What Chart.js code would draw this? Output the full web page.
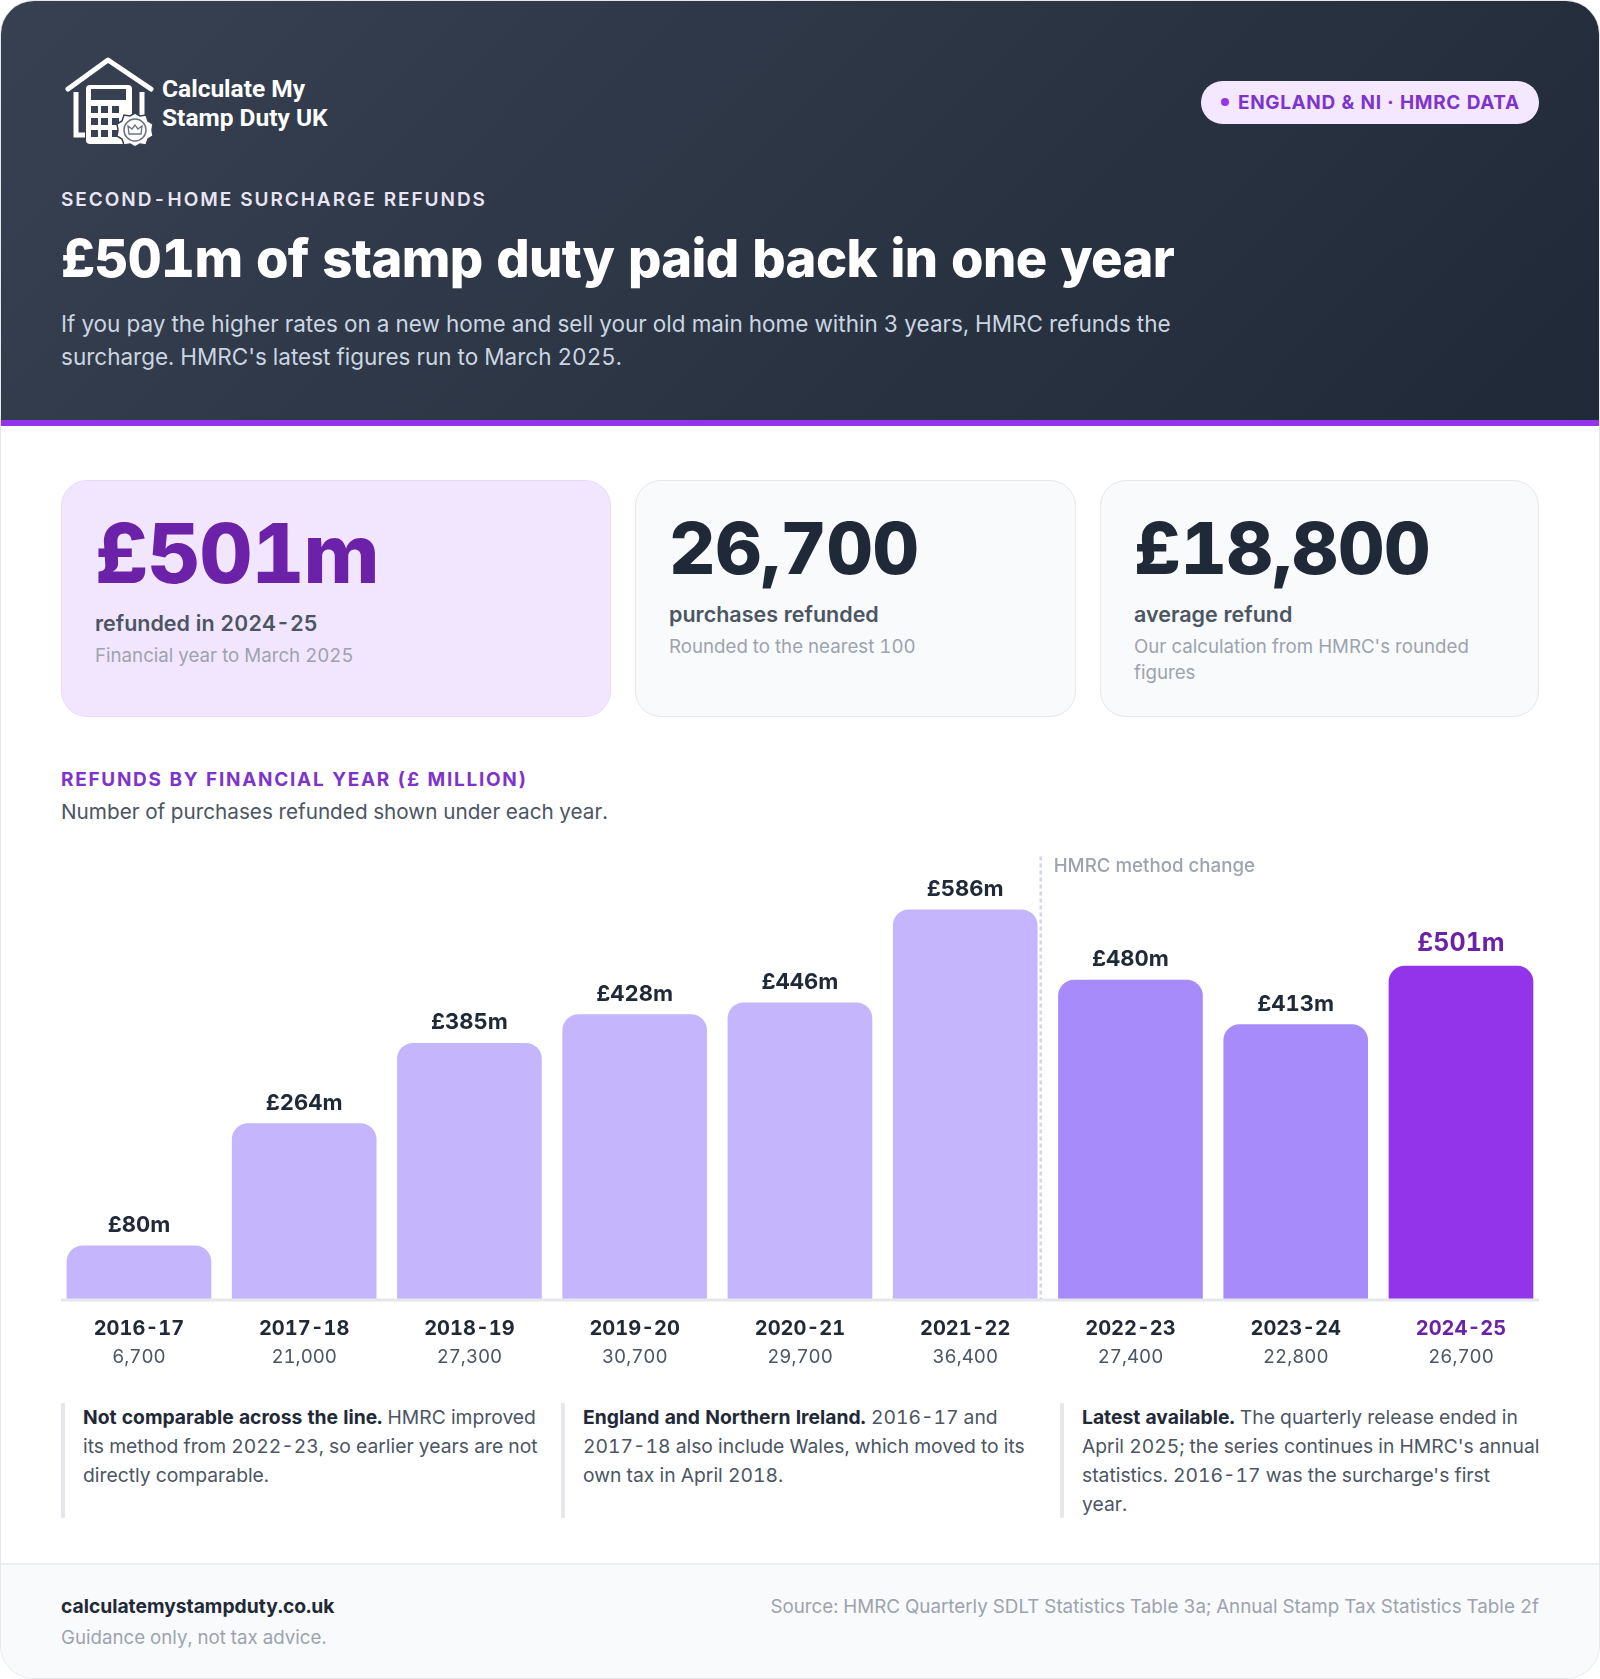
<!DOCTYPE html>
<html>
<head>
<meta charset="utf-8">
<title>Stamp duty refunds</title>
<script src="https://cdn.jsdelivr.net/npm/chart.js@4"></script>
<style>
html, body { margin: 0; padding: 0; background: #fff; }
body { width: 1600px; height: 1679px; position: relative; overflow: hidden; font-family: Inter, sans-serif; color: #1f2937; }
#card { position: absolute; left: 0; top: 0; width: 1598px; height: 1677px; border: 1px solid #e5e7eb; border-radius: 34px; overflow: hidden; background: #fff; }
#head { position: absolute; left: 0; top: 0; width: 1598px; height: 419px; background: linear-gradient(135deg, #374151 0%, #1f2937 100%); border-bottom: 6px solid #9333ea; }
#foot { position: absolute; left: 0; top: 1562px; width: 1598px; height: 115px; background: #f9fafb; border-top: 2px solid #eceef1; }
.t { position: absolute; white-space: nowrap; font-variant-numeric: tabular-nums !important; font-feature-settings: "tnum" !important; }
.kpi { position: absolute; top: 480px; height: 235px; border: 1px solid #e5e7eb; border-radius: 26px; background: #f9fafb; }
.note { position: absolute; top: 1403px; width: 4px; height: 115px; background: #e5e7eb; }
.n { font-size: 19.3px; line-height: 29px; color: #4b5563; }
.n b { color: #1f2937; font-weight: 700; }
canvas { position: absolute; left: 0; top: 834px; font-variant-numeric: tabular-nums; font-feature-settings: "tnum"; }
</style>
</head>
<body>
<div id="card"><div id="head"></div><div id="foot"></div></div>

<svg class="t" style="left:0;top:0" width="240" height="170" viewBox="0 0 240 170">
  <path d="M68 89 L108 60 L151 89" fill="none" stroke="#fff" stroke-width="5" stroke-linecap="round" stroke-linejoin="round"/>
  <path d="M76 92 V135 H85" fill="none" stroke="#fff" stroke-width="5"/>
  <path d="M142 92 V116" fill="none" stroke="#fff" stroke-width="5"/>
  <rect x="86" y="85" width="46" height="59" rx="4" fill="#fff"/>
  <rect x="91" y="89" width="35" height="11" fill="#374151"/>
  <g fill="#374151">
    <rect x="91" y="106" width="7" height="7"/><rect x="101" y="106" width="7" height="7"/><rect x="112" y="106" width="7" height="7"/>
    <rect x="91" y="118" width="7" height="7"/><rect x="101" y="118" width="7" height="7"/><rect x="112" y="118" width="7" height="7"/>
    <rect x="91" y="130" width="7" height="7"/><rect x="101" y="130" width="7" height="7"/><rect x="112" y="130" width="7" height="7"/>
  </g>
  <path d="M135 113 l5 3 6 -1 2 6 5 3 -1 6 1 6 -5 3 -2 6 -6 -1 -5 3 -5 -3 -6 1 -2 -6 -5 -3 1 -6 -1 -6 5 -3 2 -6 6 1 z" fill="#fff" stroke="#374151" stroke-width="1.5"/>
  <circle cx="135" cy="130" r="11" fill="none" stroke="#6b7280" stroke-width="1.5"/>
  <path d="M129 134 l-1 -8 4 3 3 -4 3 4 4 -3 -1 8 z" fill="none" stroke="#6b7280" stroke-width="1.3"/>
</svg>
<div class="t" style="left:162px;top:74px;font:700 24.5px/29px Roboto;color:#fff">Calculate My<br>Stamp Duty UK</div>

<div class="t" style="left:1201px;top:81px;width:338px;height:43px;border-radius:22px;background:#f3e8ff"></div>
<div class="t" style="left:1221px;top:98px;width:8px;height:8px;border-radius:4px;background:#9333ea"></div>
<div class="t" style="left:1238px;top:91px;font:700 19px/24px Inter;letter-spacing:.62px;color:#7e34cc">ENGLAND &amp; NI · HMRC DATA</div>

<div class="t" style="left:61px;top:188px;font:600 19px/24px Inter;letter-spacing:1.95px;color:#e9e5f5">SECOND-HOME SURCHARGE REFUNDS</div>
<div class="t" style="left:61px;top:226px;font:800 52.5px/64px Inter;letter-spacing:-.6px;color:#fff">£501m of stamp duty paid back in one year</div>
<div class="t" style="left:61px;top:307px;font:400 22.5px/33px Inter;color:#cbd5e1">If you pay the higher rates on a new home and sell your old main home within 3 years, HMRC refunds the<br>surcharge. HMRC's latest figures run to March 2025.</div>

<div class="kpi" style="left:61px;width:548px;background:#f2e6fe;border-color:#e9dcfb"></div>
<div class="kpi" style="left:635px;width:439px"></div>
<div class="kpi" style="left:1100px;width:437px"></div>

<div class="t" style="left:95px;top:504px;font:800 82px/100px Inter;letter-spacing:-.9px;color:#6b21a8">£501m</div>
<div class="t" style="left:95px;top:609px;font:600 21.5px/28px Inter;color:#4b5563">refunded in 2024-25</div>
<div class="t" style="left:95px;top:644px;font:400 18.7px/24px Inter;color:#9ca3af">Financial year to March 2025</div>

<div class="t" style="left:669px;top:503px;font:800 72px/90px Inter;letter-spacing:-.33px;color:#1f2937">26,700</div>
<div class="t" style="left:669px;top:600px;font:600 21.5px/28px Inter;color:#4b5563">purchases refunded</div>
<div class="t" style="left:669px;top:634px;font:400 18.7px/26px Inter;color:#9ca3af">Rounded to the nearest 100</div>

<div class="t" style="left:1134px;top:503px;font:800 72px/90px Inter;letter-spacing:-.33px;color:#1f2937">£18,800</div>
<div class="t" style="left:1134px;top:600px;font:600 21.5px/28px Inter;color:#4b5563">average refund</div>
<div class="t" style="left:1134px;top:634px;font:400 18.7px/26px Inter;color:#9ca3af">Our calculation from HMRC's rounded<br>figures</div>

<div class="t" style="left:61px;top:768px;font:700 19px/24px Inter;letter-spacing:1.7px;color:#7e34cc">REFUNDS BY FINANCIAL YEAR (£ MILLION)</div>
<div class="t" style="left:61px;top:799px;font:400 20.72px/26px Inter;color:#4b5563">Number of purchases refunded shown under each year.</div>

<canvas id="refundsChart" width="1600" height="537"></canvas>

<div class="note" style="left:61px"></div>
<div class="t n" style="left:83px;top:1403px"><b>Not comparable across the line.</b> HMRC improved<br>its method from 2022-23, so earlier years are not<br>directly comparable.</div>
<div class="note" style="left:561px"></div>
<div class="t n" style="left:583px;top:1403px"><b>England and Northern Ireland.</b> 2016-17 and<br>2017-18 also include Wales, which moved to its<br>own tax in April 2018.</div>
<div class="note" style="left:1060px"></div>
<div class="t n" style="left:1082px;top:1403px"><b>Latest available.</b> The quarterly release ended in<br>April 2025; the series continues in HMRC's annual<br>statistics. 2016-17 was the surcharge's first<br>year.</div>

<div class="t" style="left:61px;top:1594px;font:700 19.25px/25px Inter;color:#1f2937">calculatemystampduty.co.uk</div>
<div class="t" style="left:61px;top:1626px;font:400 18.7px/24px Inter;color:#9ca3af">Guidance only, not tax advice.</div>
<div class="t" style="right:61px;top:1594px;font:400 18.78px/25px Inter;color:#9ca3af">Source: HMRC Quarterly SDLT Statistics Table 3a; Annual Stamp Tax Statistics Table 2f</div>

<script>
var years = ["2016-17", "2017-18", "2018-19", "2019-20", "2020-21", "2021-22", "2022-23", "2023-24", "2024-25"];
var refunds = [80, 264, 385, 428, 446, 586, 480, 413, 501];
var purchases = ["6,700", "21,000", "27,300", "30,700", "29,700", "36,400", "27,400", "22,800", "26,700"];

var lastYear = years.length - 1;
var methodChange = years.indexOf("2022-23");

function barColour(ctx) {
	if (ctx.dataIndex == lastYear) return "#9333ea";
	if (ctx.dataIndex >= methodChange) return "#a78bfa";
	return "#c4b5fd";
}

// value labels, baseline and the method change marker
var extras = {
	id: "extras",
	afterDatasetsDraw: function(chart) {
		var c = chart.ctx, x = chart.scales.x, y = chart.scales.y;
		var y0 = y.getPixelForValue(0);

		c.save();
		c.strokeStyle = "#e5e7eb";
		c.lineWidth = 3;
		c.beginPath();
		c.moveTo(61, y0 + 1);
		c.lineTo(1539, y0 + 1);
		c.stroke();

		var lineX = x.getPixelForValue(methodChange - 1) + 75.5;
		c.strokeStyle = "#d1d5e8";
		c.lineWidth = 2.5;
		c.setLineDash([4, 3]);
		c.beginPath();
		c.moveTo(lineX, y.getPixelForValue(666));
		c.lineTo(lineX, y0);
		c.stroke();
		c.setLineDash([]);

		c.textAlign = "left";
		c.textBaseline = "middle";
		c.fillStyle = "#9ca3af";
		c.font = "500 18.7px Inter";
		c.fillText("HMRC method change", lineX + 13, y.getPixelForValue(652));

		c.textAlign = "center";
		c.textBaseline = "alphabetic";
		refunds.forEach(function(v, i) {
			var last = i == lastYear;
			c.fillStyle = last ? "#6b21a8" : "#1f2937";
			c.font = last ? "700 25px Inter" : "700 22px Inter";
			c.fillText("£" + v + "m", x.getPixelForValue(i), y.getPixelForValue(v) - (last ? 15 : 14));
		});
		c.restore();
	}
};

var ctx = document.getElementById("refundsChart").getContext("2d");
new Chart(ctx, {
	type: "bar",
	data: {
		labels: years,
		datasets: [{
			data: refunds,
			backgroundColor: barColour,
			barThickness: 144,
			borderRadius: { topLeft: 16, topRight: 16 },
			borderSkipped: "bottom"
		}]
	},
	plugins: [extras],
	options: {
		responsive: false,
		animation: false,
		layout: { padding: { left: 56.3, right: 56.4, top: 0, bottom: 0 } },
		plugins: { legend: { display: false }, tooltip: { enabled: false } },
		scales: {
			y: { display: false, min: 0, max: 700 },
			x: {
				grid: { display: false, drawTicks: false },
				border: { display: false },
				afterFit: function(scale) { scale.height = 42; },
				ticks: {
					padding: 18,
					maxRotation: 0,
					autoSkip: false,
					font: { family: "Inter", size: 20, weight: "700" },
					color: function(c) { return c.index == lastYear ? "#6b21a8" : "#1f2937"; }
				}
			},
			counts: {
				type: "category",
				position: "bottom",
				labels: purchases,
				grid: { display: false, drawTicks: false },
				border: { display: false },
				afterFit: function(scale) { scale.height = 30; },
				ticks: {
					padding: 5,
					maxRotation: 0,
					autoSkip: false,
					font: { family: "Inter", size: 18.7, weight: "400" },
					color: "#4b5563"
				}
			}
		}
	}
});
</script>
</body>
</html>
